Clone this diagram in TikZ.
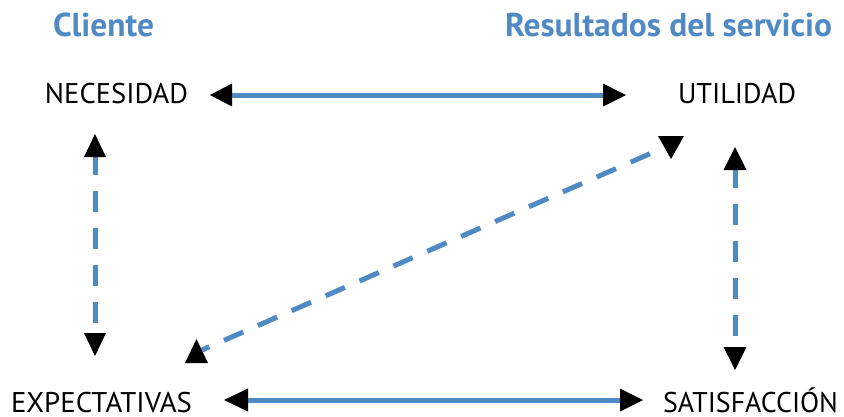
\documentclass[tikz,border=0pt]{standalone}
\usepackage{fontspec}
\setmainfont{PT Sans}
\usepackage{graphicx}
\definecolor{lineblue}{RGB}{80,138,196}
\newlength\fitlen
\newcommand\fitto[2]{\settowidth\fitlen{#2}\scalebox{\fpeval{(#1)/\fitlen}}[1]{#2}}
\begin{document}
\begin{tikzpicture}[x=1pt,y=-1pt,
  lbl/.style={anchor=base west,inner sep=0pt,outer sep=0pt,font=\fontsize{28.5}{30}\selectfont,text=black},
  ttl/.style={anchor=base west,inner sep=0pt,outer sep=0pt,font=\fontsize{33}{35}\selectfont\bfseries,text=lineblue},
  solidline/.style={draw=lineblue,line width=5pt},
  dashline/.style={draw=lineblue,line width=5pt,dash pattern=on 21pt off 16pt},
  headfill/.style={fill=black}]
\useasboundingbox (0,0) rectangle (844,416);
% titles
\node[ttl] (cli) at (53,36) {\fitto{101pt}{Cliente}};
\node[ttl] (res) at (505,36) {\fitto{327pt}{Resultados del servicio}};
% labels
\node[lbl] (nec) at (45,103) {\fitto{143pt}{NECESIDAD}};
\node[lbl] (uti) at (678,103) {\fitto{118pt}{UTILIDAD}};
\node[lbl] (exp) at (11,412) {\fitto{181pt}{EXPECTATIVAS}};
\node[lbl] (sat) at (663,412) {\fitto{175pt}{SATISFACCIÓN}};
% endpoints
\coordinate (necR) at (231,95);
\coordinate (utiL) at (604,95);
\coordinate (expR) at (248,400);
\coordinate (satL) at (620,400);
\coordinate (necB) at (95,154);
\coordinate (expT) at (95,333);
\coordinate (utiB) at (735,167);
\coordinate (satT) at (735,347);
\coordinate (expD) at (202,350);
\coordinate (utiD) at (663,148);
% connectors
\draw[solidline] (necR) -- (utiL);
\draw[solidline] (expR) -- (satL);
\draw[dashline] (necB) -- (expT);
\draw[dashline] (utiB) -- (satT);
\draw[draw=lineblue,line width=5pt,dash pattern=on 21pt off 16pt,dash phase=13pt] (expD) -- (utiD);
% arrow heads
\fill[headfill] (210,95) -- (232,83.5) -- (232,106.5) -- cycle;
\fill[headfill] (626,95) -- (603,83.5) -- (603,106.5) -- cycle;
\fill[headfill] (224,400) -- (248,388.5) -- (248,411.5) -- cycle;
\fill[headfill] (643,400) -- (620,388.5) -- (620,411.5) -- cycle;
\fill[headfill] (95,134) -- (84,157) -- (106,157) -- cycle;
\fill[headfill] (95,356) -- (84,333) -- (106,333) -- cycle;
\fill[headfill] (735,147) -- (723.5,170) -- (746.5,170) -- cycle;
\fill[headfill] (735,370) -- (723.5,347) -- (746.5,347) -- cycle;
\fill[headfill] (671,159) -- (658,136) -- (684,136) -- cycle;
\fill[headfill] (196.5,339) -- (185,363) -- (208,363) -- cycle;
\end{tikzpicture}
\end{document}
